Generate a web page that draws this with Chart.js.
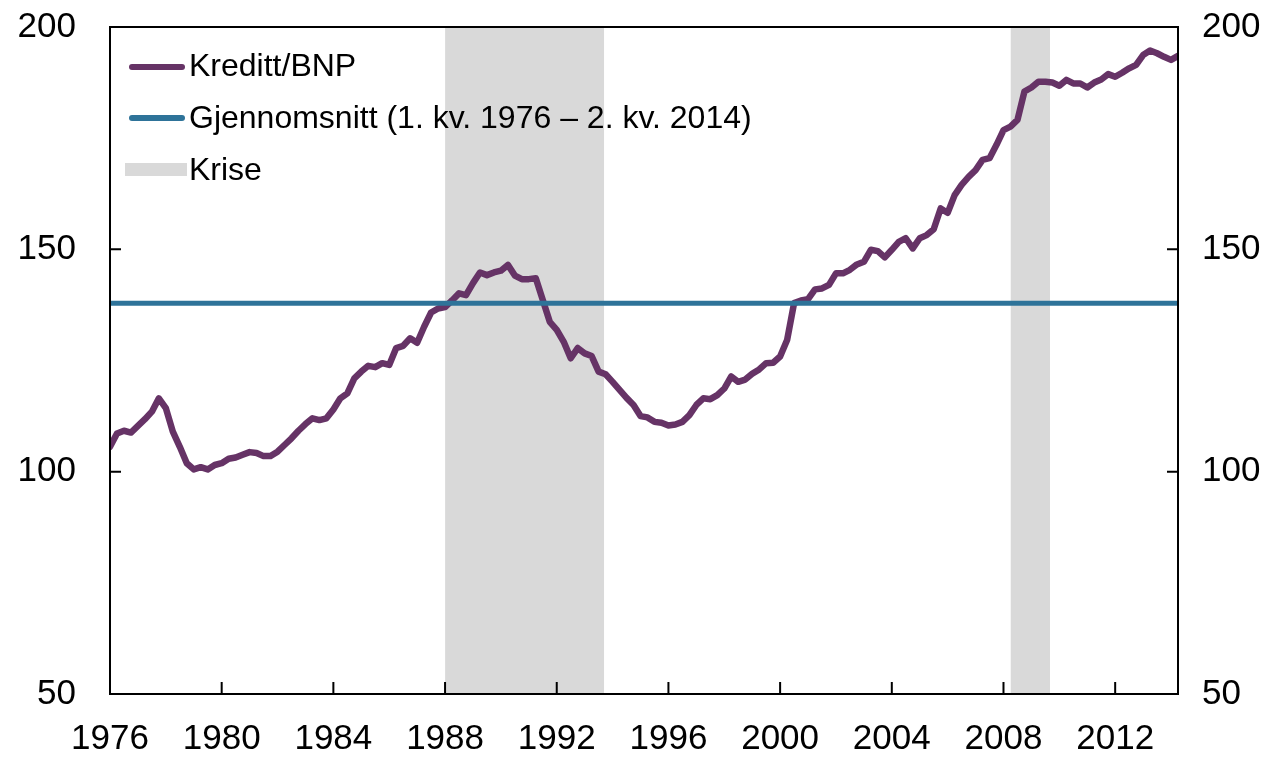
<!DOCTYPE html>
<html>
<head>
<meta charset="utf-8">
<script src="https://cdn.jsdelivr.net/npm/chart.js@4/dist/chart.umd.min.js"></script>
<style>
  html, body { margin: 0; padding: 0; background: #fff; }
  #wrap { position: relative; width: 1279px; height: 758px; }
  .leg { position: absolute; font-family: "Liberation Sans", Arial, sans-serif; font-size: 32px; line-height: 32px; color: #000; white-space: nowrap; }
  .sw { position: absolute; }
</style>
</head>
<body>
<div id="wrap">
  <canvas id="creditChart" width="1279" height="758"></canvas>
  <div class="sw" style="left:129px;top:64px;width:56px;height:6px;border-radius:3px;background:#663366"></div>
  <div class="leg" style="left:189px;top:49px">Kreditt/BNP</div>
  <div class="sw" style="left:129px;top:115px;width:56px;height:6px;border-radius:3px;background:#2e7399"></div>
  <div class="leg" style="left:189px;top:101px">Gjennomsnitt (1. kv. 1976 – 2. kv. 2014)</div>
  <div class="sw" style="left:125px;top:163px;width:62px;height:13px;background:#d9d9d9"></div>
  <div class="leg" style="left:189px;top:153px">Krise</div>
</div>
<script>
// Kreditt/BNP, quarterly from 1. kv. 1976 to 2. kv. 2014
const startYear = 1976;
const creditGdp = [
  105.6, 108.6, 109.2, 108.8, 110.3, 111.8, 113.5, 116.5, 114.3, 109.0, 105.6, 101.9, 100.5, 101.0, 100.5, 101.5,
  101.9, 102.9, 103.2, 103.8, 104.4, 104.2, 103.5, 103.5, 104.5, 106.0, 107.5, 109.2, 110.7, 112.0, 111.6,
  112.0, 114.0, 116.5, 117.6, 121.0, 122.5, 123.8, 123.5, 124.4, 124.0, 127.8, 128.3, 130.0, 129.0, 132.6,
  135.8, 136.7, 137.0, 138.5, 140.1, 139.7, 142.4, 144.8, 144.2, 144.8, 145.2, 146.5, 144.1, 143.3, 143.3,
  143.5, 138.6, 133.7, 131.9, 129.2, 125.5, 127.8, 126.6, 126.0, 122.5, 121.9, 120.2, 118.4, 116.6, 115.0,
  112.5, 112.2, 111.2, 111.0, 110.4, 110.6, 111.2, 112.7, 115.0, 116.5, 116.3, 117.2, 118.7, 121.4, 120.2, 120.7,
  122.0, 123.0, 124.4, 124.5, 125.9, 129.6, 137.9, 138.5, 138.8, 141.0, 141.2, 142.0, 144.6, 144.6, 145.4,
  146.6, 147.2, 149.9, 149.6, 148.2, 149.9, 151.7, 152.5, 150.2, 152.5, 153.2, 154.5, 159.2, 158.2, 162.2, 164.5,
  166.3, 167.8, 170.1, 170.5, 173.5, 176.8, 177.6, 179.1, 185.5, 186.4, 187.7, 187.7, 187.5, 186.8, 188.1,
  187.3, 187.3, 186.4, 187.5, 188.2, 189.4, 188.8, 189.7, 190.7, 191.5, 193.7, 194.7, 194.1, 193.3, 192.6, 193.5
];
const average = 137.9;
const crisisStart = [1988.0, 2008.25];
const crisisEnd = [1993.7, 2009.67];
const xTicks = [1976, 1980, 1984, 1988, 1992, 1996, 2000, 2004, 2008, 2012];
const yTicks = [50, 100, 150, 200];

const xMin = startYear;
const xMax = startYear + (creditGdp.length - 1) / 4;
const creditPoints = creditGdp.map((v, i) => ({ x: startYear + i / 4, y: v }));

const axisFont = { family: '"Liberation Sans", Arial, sans-serif', size: 35 };

const crisisSets = crisisStart.map((s, i) => ({
  data: [{ x: s, y: 200 }, { x: crisisEnd[i], y: 200 }],
  fill: 'start',
  backgroundColor: '#d9d9d9',
  borderWidth: 0,
  pointRadius: 0,
  order: 3
}));

// frame and inward ticks
const framePlugin = {
  id: 'frame',
  afterDatasetsDraw(chart) {
    const { ctx, chartArea: a, scales } = chart;
    ctx.save();
    ctx.strokeStyle = '#000';
    ctx.lineWidth = 2;
    ctx.strokeRect(a.left, a.top, a.right - a.left, a.bottom - a.top);
    ctx.beginPath();
    scales.y.ticks.forEach(t => {
      const p = scales.y.getPixelForValue(t.value);
      ctx.moveTo(a.left, p); ctx.lineTo(a.left + 11, p);
      ctx.moveTo(a.right, p); ctx.lineTo(a.right - 11, p);
    });
    scales.x.ticks.forEach(t => {
      const p = scales.x.getPixelForValue(t.value);
      ctx.moveTo(p, a.bottom); ctx.lineTo(p, a.bottom - 12);
    });
    ctx.stroke();
    ctx.restore();
  }
};

const yScale = (pos, width, pad) => ({
  position: pos,
  min: 50,
  max: 200,
  grid: { display: false, drawTicks: false },
  border: { display: false },
  afterBuildTicks: s => { s.ticks = yTicks.map(v => ({ value: v })); },
  ticks: { font: axisFont, color: '#000', padding: pad },
  afterFit: s => { s.width = width; s.paddingTop = 0; s.paddingBottom = 0; }
});

const ctx = document.getElementById('creditChart').getContext('2d');
const creditChart = new Chart(ctx, {
  type: 'line',
  data: {
    datasets: [
      ...crisisSets,
      {
        label: 'Kreditt/BNP',
        data: creditPoints,
        borderColor: '#663366',
        borderWidth: 6.5,
        pointRadius: 0,
        tension: 0,
        borderJoinStyle: 'round',
        borderCapStyle: 'round',
        order: 2
      },
      {
        label: 'Gjennomsnitt (1. kv. 1976 – 2. kv. 2014)',
        data: [{ x: xMin, y: average }, { x: xMax, y: average }],
        borderColor: '#2e7399',
        borderWidth: 5,
        pointRadius: 0,
        order: 1
      }
    ]
  },
  options: {
    responsive: false,
    animation: false,
    devicePixelRatio: 1,
    layout: { padding: { top: 27, left: 0, right: 0, bottom: 0 } },
    plugins: { legend: { display: false }, tooltip: { enabled: false } },
    scales: {
      x: {
        type: 'linear',
        min: xMin,
        max: xMax,
        grid: { display: false, drawTicks: false },
        border: { display: false },
        afterBuildTicks: s => { s.ticks = xTicks.map(v => ({ value: v })); },
        ticks: { font: axisFont, color: '#000', padding: 24, maxRotation: 0, autoSkip: false, callback: v => String(v) },
        afterFit: s => { s.height = 64; s.paddingLeft = 0; s.paddingRight = 0; }
      },
      y: yScale('left', 110, 34),
      y2: yScale('right', 101, 24)
    }
  },
  plugins: [framePlugin]
});
</script>
</body>
</html>
